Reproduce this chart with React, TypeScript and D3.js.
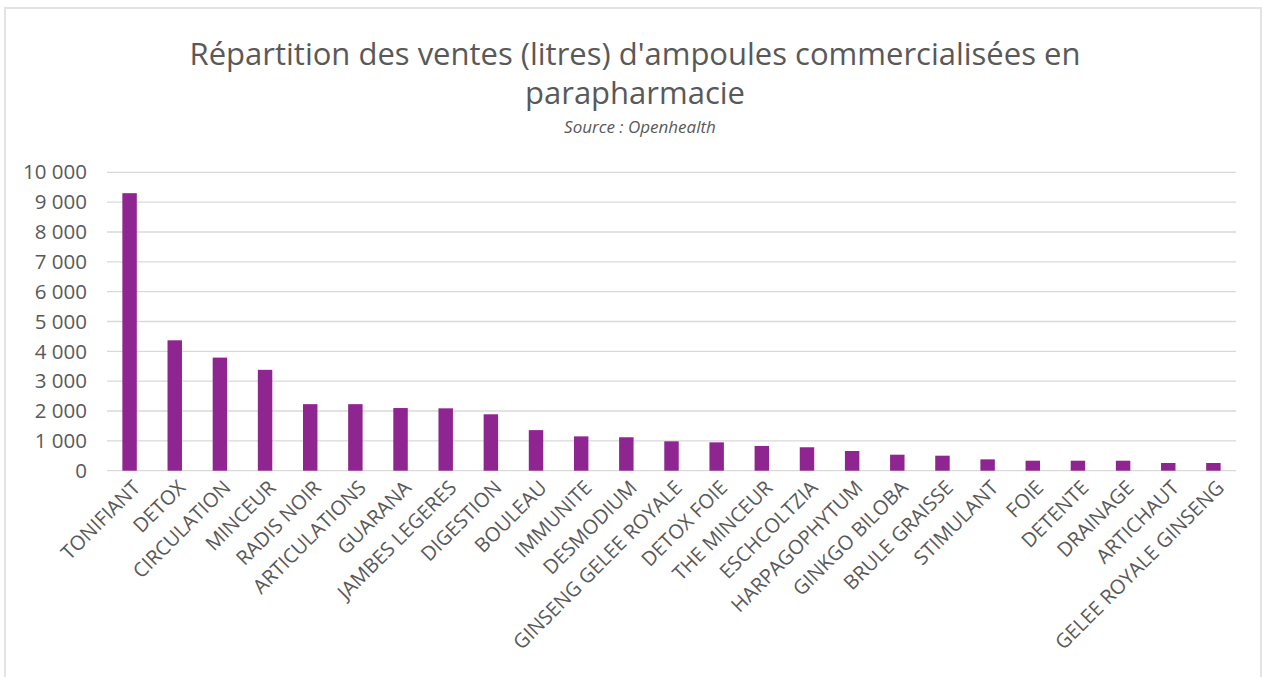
import * as d3 from "d3";

const categories = [
  "TONIFIANT", "DETOX", "CIRCULATION", "MINCEUR", "RADIS NOIR", "ARTICULATIONS",
  "GUARANA", "JAMBES LEGERES", "DIGESTION", "BOULEAU", "IMMUNITE", "DESMODIUM",
  "GINSENG GELEE ROYALE", "DETOX FOIE", "THE MINCEUR", "ESCHCOLTZIA", "HARPAGOPHYTUM",
  "GINKGO BILOBA", "BRULE GRAISSE", "STIMULANT", "FOIE", "DETENTE", "DRAINAGE",
  "ARTICHAUT", "GELEE ROYALE GINSENG",
];
const volumes = [
  9300, 4370, 3790, 3380, 2230, 2230, 2100, 2090, 1890, 1360, 1150, 1120,
  985, 950, 830, 785, 660, 536, 503, 380, 335, 335, 335, 258, 258,
];
const yTicks = [0, 1000, 2000, 3000, 4000, 5000, 6000, 7000, 8000, 9000, 10000];

const titleLines = ["Répartition des ventes (litres) d'ampoules commercialisées en", "parapharmacie"];
const subtitle = "Source : Openhealth";

const W = 1262;
const H = 677;
const plot = { left: 107, right: 1236, top: 172.3, bottom: 470.7 };
const font = "'Open Sans', sans-serif";
const textColor = "#595959";

// "10 000" style thousands
const fmt = (v: number) => d3.format(",")(v).replace(/,/g, " ");

export default function App() {
  const x = d3.scaleBand<string>().domain(categories).range([plot.left, plot.right]).paddingInner(0.68).paddingOuter(0.34);
  const y = d3.scaleLinear().domain([0, 10000]).range([plot.bottom, plot.top]);

  return (
    <div style={{ position: "absolute", left: 0, top: 0 }}>
      <svg width={W} height={H} style={{ display: "block", background: "#fff" }}>
        <rect x={5} y={8} width={1256} height={H} fill="#fff" stroke="#e3e3e3" strokeWidth={2} />

        <text x={635} y={65} textAnchor="middle" fontFamily={font} fontSize={31} fill={textColor}>
          {titleLines[0]}
        </text>
        <text x={635} y={104} textAnchor="middle" fontFamily={font} fontSize={31} fill={textColor}>
          {titleLines[1]}
        </text>
        <text x={640} y={133} textAnchor="middle" fontFamily={font} fontSize={17} fontStyle="italic" fill={textColor}>
          {subtitle}
        </text>

        {yTicks.map((t) => (
          <g key={t}>
            <line x1={plot.left} x2={plot.right} y1={y(t)} y2={y(t)} stroke="#d9d9d9" strokeWidth={1.3} />
            <text x={87} y={y(t)} dy="0.35em" textAnchor="end" fontFamily={font} fontSize={20.5} fill={textColor}>
              {fmt(t)}
            </text>
          </g>
        ))}

        {categories.map((c, i) => (
          <rect
            key={c}
            x={x(c)!}
            y={y(volumes[i])}
            width={x.bandwidth()}
            height={y(0) - y(volumes[i])}
            fill="#8f2590"
          />
        ))}

        {categories.map((c) => {
          const cx = x(c)! + x.bandwidth() / 2 + 7;
          const ty = 484;
          return (
            <text
              key={c}
              transform={`translate(${cx},${ty}) rotate(-45)`}
              textAnchor="end"
              dy="0.35em"
              fontFamily={font}
              fontSize={20}
              fill={textColor}
            >
              {c}
            </text>
          );
        })}
      </svg>
    </div>
  );
}
